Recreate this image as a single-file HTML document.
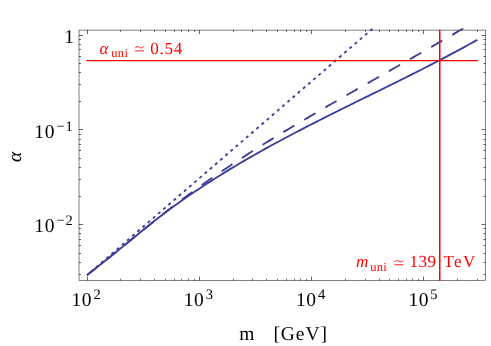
<!DOCTYPE html>
<html><head><meta charset="utf-8"><style>
html,body{margin:0;padding:0;background:#fff}
svg{display:block}
text{font-family:"Liberation Serif",serif;text-rendering:geometricPrecision;}
svg{will-change:transform;}
</style></head><body>
<svg width="491" height="346" viewBox="0 0 491 346">
<rect width="491" height="346" fill="#fff"/>
<defs><clipPath id="c"><rect x="79.0" y="28.200000000000003" width="406.5" height="252.3"/></clipPath></defs>

<path d="M87.50,280.5 v-4.0 M87.50,30.1 v4.0 M120.50,280.5 v-1.8 M120.50,30.1 v1.8 M140.50,280.5 v-1.8 M140.50,30.1 v1.8 M154.50,280.5 v-1.8 M154.50,30.1 v1.8 M165.50,280.5 v-1.8 M165.50,30.1 v1.8 M174.50,280.5 v-1.8 M174.50,30.1 v1.8 M181.50,280.5 v-1.8 M181.50,30.1 v1.8 M188.50,280.5 v-1.8 M188.50,30.1 v1.8 M194.50,280.5 v-1.8 M194.50,30.1 v1.8 M199.50,280.5 v-4.0 M199.50,30.1 v4.0 M233.50,280.5 v-1.8 M233.50,30.1 v1.8 M252.50,280.5 v-1.8 M252.50,30.1 v1.8 M266.50,280.5 v-1.8 M266.50,30.1 v1.8 M277.50,280.5 v-1.8 M277.50,30.1 v1.8 M286.50,280.5 v-1.8 M286.50,30.1 v1.8 M294.50,280.5 v-1.8 M294.50,30.1 v1.8 M300.50,280.5 v-1.8 M300.50,30.1 v1.8 M306.50,280.5 v-1.8 M306.50,30.1 v1.8 M311.50,280.5 v-4.0 M311.50,30.1 v4.0 M345.50,280.5 v-1.8 M345.50,30.1 v1.8 M365.50,280.5 v-1.8 M365.50,30.1 v1.8 M379.50,280.5 v-1.8 M379.50,30.1 v1.8 M389.50,280.5 v-1.8 M389.50,30.1 v1.8 M398.50,280.5 v-1.8 M398.50,30.1 v1.8 M406.50,280.5 v-1.8 M406.50,30.1 v1.8 M412.50,280.5 v-1.8 M412.50,30.1 v1.8 M418.50,280.5 v-1.8 M418.50,30.1 v1.8 M423.50,280.5 v-4.0 M423.50,30.1 v4.0 M457.50,280.5 v-1.8 M457.50,30.1 v1.8 M477.50,280.5 v-1.8 M477.50,30.1 v1.8 M79.0,274.50 h2.0 M485.5,274.50 h-2.0 M79.0,262.50 h2.0 M485.5,262.50 h-2.0 M79.0,253.50 h2.0 M485.5,253.50 h-2.0 M79.0,245.50 h2.0 M485.5,245.50 h-2.0 M79.0,239.50 h2.0 M485.5,239.50 h-2.0 M79.0,233.50 h2.0 M485.5,233.50 h-2.0 M79.0,228.50 h2.0 M485.5,228.50 h-2.0 M79.0,224.50 h4.0 M485.5,224.50 h-4.0 M79.0,196.50 h2.0 M485.5,196.50 h-2.0 M79.0,179.50 h2.0 M485.5,179.50 h-2.0 M79.0,167.50 h2.0 M485.5,167.50 h-2.0 M79.0,158.50 h2.0 M485.5,158.50 h-2.0 M79.0,150.50 h2.0 M485.5,150.50 h-2.0 M79.0,144.50 h2.0 M485.5,144.50 h-2.0 M79.0,139.50 h2.0 M485.5,139.50 h-2.0 M79.0,134.50 h2.0 M485.5,134.50 h-2.0 M79.0,129.50 h4.0 M485.5,129.50 h-4.0 M79.0,101.50 h2.0 M485.5,101.50 h-2.0 M79.0,84.50 h2.0 M485.5,84.50 h-2.0 M79.0,72.50 h2.0 M485.5,72.50 h-2.0 M79.0,63.50 h2.0 M485.5,63.50 h-2.0 M79.0,56.50 h2.0 M485.5,56.50 h-2.0 M79.0,49.50 h2.0 M485.5,49.50 h-2.0 M79.0,44.50 h2.0 M485.5,44.50 h-2.0 M79.0,39.50 h2.0 M485.5,39.50 h-2.0 M79.0,35.50 h4.0 M485.5,35.50 h-4.0" stroke="#000" stroke-width="0.6" fill="none"/>
<rect x="79.0" y="30.1" width="406.5" height="250.4" fill="none" stroke="#000" stroke-width="0.5"/>
<g clip-path="url(#c)" fill="none" stroke="#3d3d99" stroke-width="1.85">
<path d="M87.00,275.12 L90.28,272.53 L93.56,269.95 L96.84,267.36 L100.12,264.77 L103.40,262.17 L106.68,259.57 L109.96,256.95 L113.25,254.31 L116.53,251.67 L119.81,249.02 L123.09,246.35 L126.37,243.69 L129.65,241.02 L132.93,238.34 L136.21,235.67 L139.49,233.00 L142.77,230.33 L146.05,227.67 L149.33,225.02 L152.61,222.39 L155.89,219.79 L159.17,217.22 L162.46,214.69 L165.74,212.21 L169.02,209.76 L172.30,207.35 L175.58,204.97 L178.86,202.63 L182.14,200.32 L185.42,198.03 L188.70,195.78 L191.98,193.54 L195.26,191.33 L198.54,189.15 L201.82,186.98 L205.10,184.84 L208.38,182.71 L211.67,180.61 L214.95,178.53 L218.23,176.47 L221.51,174.42 L224.79,172.40 L228.07,170.39 L231.35,168.41 L234.63,166.44 L237.91,164.49 L241.19,162.55 L244.47,160.63 L247.75,158.73 L251.03,156.84 L254.31,154.97 L257.59,153.11 L260.88,151.26 L264.16,149.43 L267.44,147.61 L270.72,145.81 L274.00,144.01 L277.28,142.23 L280.56,140.46 L283.84,138.71 L287.12,136.96 L290.40,135.22 L293.68,133.50 L296.96,131.78 L300.24,130.07 L303.52,128.37 L306.81,126.68 L310.09,125.00 L313.37,123.32 L316.65,121.65 L319.93,119.99 L323.21,118.33 L326.49,116.68 L329.77,115.04 L333.05,113.40 L336.33,111.76 L339.61,110.13 L342.89,108.50 L346.17,106.88 L349.45,105.26 L352.73,103.64 L356.02,102.02 L359.30,100.40 L362.58,98.79 L365.86,97.18 L369.14,95.56 L372.42,93.95 L375.70,92.34 L378.98,90.72 L382.26,89.11 L385.54,87.49 L388.82,85.87 L392.10,84.25 L395.38,82.62 L398.66,80.99 L401.94,79.36 L405.23,77.73 L408.51,76.08 L411.79,74.44 L415.07,72.79 L418.35,71.13 L421.63,69.47 L424.91,67.80 L428.19,66.12 L431.47,64.43 L434.75,62.74 L438.03,61.04 L441.31,59.33 L444.59,57.61 L447.87,55.88 L451.15,54.14 L454.44,52.39 L457.72,50.63 L461.00,48.86 L464.28,47.08 L467.56,45.28 L470.84,43.48 L474.12,41.66 L477.40,39.82"/>
<path d="M87.00,275.12 L90.20,272.60 L93.40,270.08 L96.61,267.55 L99.81,265.02 L103.01,262.49 L106.21,259.94 L109.41,257.39 L112.61,254.82 L115.82,252.24 L119.02,249.66 L122.22,247.06 L125.42,244.46 L128.62,241.85 L131.82,239.24 L135.03,236.63 L138.23,234.03 L141.43,231.42 L144.63,228.82 L147.83,226.23 L151.03,223.66 L154.24,221.10 L157.44,218.57 L160.64,216.01 L163.84,213.48 L167.04,210.98 L170.24,208.51 L173.45,206.06 L176.65,203.63 L179.85,201.22 L183.05,198.83 L186.25,196.46 L189.45,194.11 L192.66,191.77 L195.86,189.45 L199.06,187.14 L202.26,184.85 L205.46,182.57 L208.66,180.31 L211.87,178.07 L215.07,175.85 L218.27,173.65 L221.47,171.46 L224.67,169.30 L227.87,167.15 L231.08,165.02 L234.28,162.91 L237.48,160.81 L240.68,158.73 L243.88,156.67 L247.08,154.62 L250.29,152.58 L253.49,150.56 L256.69,148.54 L259.89,146.54 L263.09,144.56 L266.29,142.58 L269.50,140.61 L272.70,138.65 L275.90,136.70 L279.10,134.76 L282.30,132.83 L285.50,130.90 L288.71,128.98 L291.91,127.07 L295.11,125.16 L298.31,123.26 L301.51,121.37 L304.71,119.48 L307.92,117.60 L311.12,115.72 L314.32,113.85 L317.52,111.98 L320.72,110.12 L323.92,108.26 L327.13,106.41 L330.33,104.56 L333.53,102.71 L336.73,100.87 L339.93,99.03 L343.13,97.19 L346.34,95.36 L349.54,93.53 L352.74,91.70 L355.94,89.88 L359.14,88.05 L362.34,86.23 L365.55,84.41 L368.75,82.59 L371.95,80.77 L375.15,78.95 L378.35,77.14 L381.55,75.32 L384.76,73.50 L387.96,71.68 L391.16,69.87 L394.36,68.05 L397.56,66.23 L400.76,64.41 L403.97,62.59 L407.17,60.77 L410.37,58.94 L413.57,57.12 L416.77,55.29 L419.97,53.46 L423.18,51.62 L426.38,49.79 L429.58,47.95 L432.78,46.11 L435.98,44.26 L439.18,42.41 L442.39,40.56 L445.59,38.70 L448.79,36.83 L451.99,34.97 L455.19,33.09 L458.39,31.22 L461.60,29.33 L464.80,27.45 L468.00,25.55" stroke-dasharray="12.9 11.46" stroke-dashoffset="0.4"/>
<path d="M87.00,275.25 L375.00,26.56" stroke-dasharray="3.0 3.836" stroke-dashoffset="1.78"/>
</g>
<path d="M86.4,60.6 H478" stroke="#ff0000" stroke-width="1.4" fill="none"/>
<path d="M439.75,29.700000000000003 V280.9" stroke="#ff0000" stroke-width="1.5" fill="none"/>
<g font-size="19.5px" fill="#000">
<text x="64.3" y="42.6">1</text>
<text x="34.2" y="137.8" letter-spacing="0.9">10<tspan font-size="14.5px" dy="-7.3" dx="0.9">−1</tspan></text>
<text x="34.2" y="232.1" letter-spacing="0.9">10<tspan font-size="14.5px" dy="-7.3" dx="0.9">−2</tspan></text>
<text x="71.5" y="305.5" letter-spacing="0.5">10<tspan font-size="14.5px" dy="-6.5" dx="1.4">2</tspan></text>
<text x="183.8" y="305.5" letter-spacing="0.5">10<tspan font-size="14.5px" dy="-6.5" dx="1.4">3</tspan></text>
<text x="296.1" y="305.5" letter-spacing="0.5">10<tspan font-size="14.5px" dy="-6.5" dx="1.4">4</tspan></text>
<text x="408.4" y="305.5" letter-spacing="0.5">10<tspan font-size="14.5px" dy="-6.5" dx="1.4">5</tspan></text>
<text x="239.2" y="339.6">m</text>
<text x="273.4" y="339.6" letter-spacing="0.95">[GeV]</text>
<text transform="translate(21.2,161.9) rotate(-90)" font-style="italic">α</text>
</g>
<g font-size="17px" fill="#ff0000">
<text x="99.6" y="53.5" font-style="italic">α</text>
<text x="111.3" y="56.6" font-size="12.5px" letter-spacing="0.3">uni</text>
<path d="M134.9,48.3 c1.5,-2 3,-2 4.5,-1 s3,1 4.5,-1 M134.9,50.9 h9" stroke="#ff0000" stroke-width="0.9" fill="none"/>
<text x="150.2" y="53.5" letter-spacing="0.75">0.54</text>
<text x="356" y="267.4" font-style="italic">m</text>
<text x="370.2" y="270.6" font-size="12.5px" letter-spacing="0.3">uni</text>
<path d="M394.4,262.2 c1.5,-2 3,-2 4.5,-1 s3,1 4.5,-1 M394.4,264.79999999999995 h9" stroke="#ff0000" stroke-width="0.9" fill="none"/>
<text x="409.6" y="267.4" letter-spacing="0.5">139</text>
<text x="443.5" y="267.4" letter-spacing="1.4">TeV</text>
</g>
</svg></body></html>
